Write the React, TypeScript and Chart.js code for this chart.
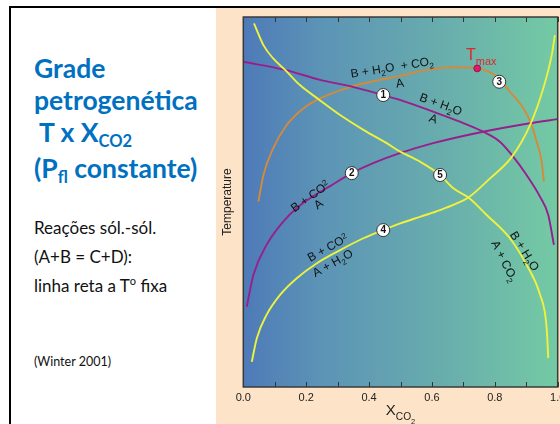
import React, { useEffect, useRef } from 'react';
import { Chart, registerables } from 'chart.js';
Chart.register(...registerables);

// ---- axis ticks ----
const xTickValues = [0, 0.1, 0.2, 0.3, 0.4, 0.5, 0.6, 0.7, 0.8, 0.9, 1.0];
const xTickLabels = ['0.0', '', '0.2', '', '0.4', '', '0.6', '', '0.8', '', '1.0'];

// ---- reaction curves (X_CO2, relative temperature 0..100) ----
const rxn1X = [0, 0.133, 0.244, 0.345, 0.445, 0.498, 0.604, 0.689, 0.763, 0.816, 0.859, 0.901, 0.944, 0.970, 0.988];
const rxn1T = [87.9, 85.7, 83.0, 81.2, 78.9, 77.6, 74.4, 71.7, 69.0, 66.3, 62.2, 57.3, 51.4, 46.5, 38.4];

const rxn2X = [0.011, 0.032, 0.074, 0.127, 0.175, 0.223, 0.276, 0.345, 0.413, 0.498, 0.604, 0.763, 0.912, 1.0];
const rxn2T = [21.7, 30.3, 38.4, 44.7, 48.7, 51.6, 54.3, 57.8, 60.5, 63.2, 65.9, 69.0, 71.3, 72.4];

const rxn3X = [0.048, 0.064, 0.095, 0.138, 0.191, 0.239, 0.345, 0.435, 0.499, 0.583, 0.668, 0.744, 0.806, 0.848, 0.891, 0.915, 0.933, 0.949, 0.956];
const rxn3T = [50.1, 57.3, 64.5, 70.8, 75.3, 77.8, 81.2, 83.0, 84.1, 85.7, 86.4, 86.1, 83.9, 79.8, 75.3, 71.3, 66.3, 60.9, 55.5];

const rxn4X = [0.027, 0.043, 0.074, 0.117, 0.170, 0.233, 0.308, 0.382, 0.445, 0.499, 0.562, 0.626, 0.679, 0.716, 0.785, 0.854, 0.912, 0.954, 0.981, 0.991];
const rxn4T = [6.8, 13.2, 19.5, 24.9, 29.4, 33.4, 37.0, 40.2, 42.4, 44.2, 46.0, 47.8, 49.6, 51.2, 56.4, 62.2, 70.8, 80.7, 89.7, 95.1];

const rxn5X = [0.034, 0.064, 0.095, 0.133, 0.180, 0.239, 0.308, 0.382, 0.456, 0.499, 0.562, 0.626, 0.668, 0.716, 0.774, 0.848, 0.901, 0.944, 0.965, 0.970];
const rxn5T = [98.3, 92.4, 88.8, 85.7, 81.6, 77.8, 73.5, 69.5, 65.9, 63.6, 60.9, 57.3, 53.7, 51.2, 46.5, 40.2, 33.0, 24.9, 15.9, 7.8];

// ---- numbered reaction markers ----
const markerNames = ['1', '2', '3', '4', '5'];
const markerX = [0.445, 0.345, 0.814, 0.445, 0.626];
const markerT = [78.9, 57.8, 82.5, 42.4, 57.3];

// ---- T max point ----
const tmaxX = 0.744;
const tmaxT = 86.1;

// ---- reaction text labels (segments: 0 normal, 1 sub, 2 sup, 3 sub-sub) ----
type Seg = [string, number];
const reactionLabels: { x: number; t: number; angle: number; segs: Seg[] }[] = [
  { x: 0.473, t: 86.5, angle: -9, segs: [['B + H', 0], ['2', 1], ['O  + CO', 0], ['2', 1]] },
  { x: 0.498, t: 82.2, angle: -9, segs: [['A', 0]] },
  { x: 0.629, t: 76.5, angle: 20, segs: [['B + H', 0], ['2', 1], ['O', 0]] },
  { x: 0.605, t: 72.6, angle: 20, segs: [['A', 0]] },
  { x: 0.212, t: 51.6, angle: -36, segs: [['B + CO', 0], ['2', 2]] },
  { x: 0.238, t: 49.5, angle: -36, segs: [['A', 0]] },
  { x: 0.268, t: 37.7, angle: -29, segs: [['B + CO', 0], ['2', 2]] },
  { x: 0.284, t: 33.6, angle: -29, segs: [['A + H', 0], ['2', 1], ['O', 0]] },
  { x: 0.896, t: 36.8, angle: 58, segs: [['B + H', 0], ['2', 1], ['O', 0]] },
  { x: 0.832, t: 34.1, angle: 63, segs: [['A + CO', 0], ['2', 1]] },
];

const FONT = '"Liberation Sans", Arial, Helvetica, sans-serif';

function drawRich(ctx: CanvasRenderingContext2D, segs: Seg[], cx: number, cy: number, angleDeg: number, size: number, color: string, weight = '') {
  ctx.save();
  ctx.translate(cx, cy);
  ctx.rotate((angleDeg * Math.PI) / 180);
  ctx.fillStyle = color;
  ctx.textBaseline = 'alphabetic';
  ctx.textAlign = 'left';
  const parts = segs.map(([t, k]) => {
    const s = k === 0 ? size : k === 3 ? size * 0.5 : size * 0.68;
    ctx.font = `${weight} ${s}px ${FONT}`;
    return { t, k, s, w: ctx.measureText(t).width };
  });
  const total = parts.reduce((a, p) => a + p.w, 0);
  let x = -total / 2;
  const base = size * 0.36;
  parts.forEach((p) => {
    ctx.font = `${weight} ${p.s}px ${FONT}`;
    const dy = p.k === 1 ? size * 0.28 : p.k === 2 ? -size * 0.3 : p.k === 3 ? size * 0.55 : 0;
    ctx.fillText(p.t, x, base + dy);
    x += p.w;
  });
  ctx.restore();
}

const zip = (xs: number[], ts: number[]) => xs.map((x, i) => ({ x, y: ts[i] }));

const ORANGE = 'rgb(212,138,58)';
const PURPLE = 'rgb(150,32,140)';
const YELLOW = 'rgb(236,242,62)';

const decorPlugin = {
  id: 'decor',
  beforeDatasetsDraw(chart: any) {
    const { ctx, chartArea: a } = chart;
    const g = ctx.createLinearGradient(a.left, 0, a.right, 0);
    g.addColorStop(0, 'rgb(78,122,184)');
    g.addColorStop(0.25, 'rgb(92,148,182)');
    g.addColorStop(0.5, 'rgb(100,164,176)');
    g.addColorStop(0.75, 'rgb(108,182,170)');
    g.addColorStop(1, 'rgb(116,202,164)');
    ctx.save();
    ctx.fillStyle = g;
    ctx.fillRect(a.left, a.top, a.right - a.left, a.bottom - a.top);
    ctx.restore();
  },
  afterDatasetsDraw(chart: any) {
    const { ctx, chartArea: a, scales } = chart;
    const xs = scales.x;
    const ys = scales.y;
    reactionLabels.forEach((l) => {
      drawRich(ctx, l.segs, xs.getPixelForValue(l.x), ys.getPixelForValue(l.t), l.angle, 12, '#111');
    });
    const tx = xs.getPixelForValue(tmaxX);
    const ty = ys.getPixelForValue(tmaxT);
    ctx.save();
    ctx.beginPath();
    ctx.arc(tx, ty, 3.4, 0, Math.PI * 2);
    ctx.fillStyle = 'rgb(232,20,110)';
    ctx.fill();
    ctx.lineWidth = 0.8;
    ctx.strokeStyle = 'rgb(120,20,60)';
    ctx.stroke();
    ctx.restore();
    drawRich(ctx, [['T', 0], ['max', 1]], tx + 4, ty - 14, 0, 16, 'rgb(222,40,40)');
    markerNames.forEach((n, i) => {
      const px = xs.getPixelForValue(markerX[i]);
      const py = ys.getPixelForValue(markerT[i]);
      ctx.save();
      ctx.beginPath();
      ctx.arc(px, py, 6.5, 0, Math.PI * 2);
      ctx.fillStyle = '#fff';
      ctx.fill();
      ctx.lineWidth = 1;
      ctx.strokeStyle = '#333';
      ctx.stroke();
      ctx.fillStyle = '#111';
      ctx.font = `bold 10px ${FONT}`;
      ctx.textAlign = 'center';
      ctx.textBaseline = 'middle';
      ctx.fillText(n, px, py + 0.5);
      ctx.restore();
    });
    ctx.save();
    ctx.strokeStyle = '#333';
    ctx.lineWidth = 1;
    xTickValues.forEach((v) => {
      const px = Math.round(xs.getPixelForValue(v)) + 0.5;
      ctx.beginPath();
      ctx.moveTo(px, a.top);
      ctx.lineTo(px, a.top + 5);
      ctx.moveTo(px, a.bottom);
      ctx.lineTo(px, a.bottom - 5);
      ctx.stroke();
    });
    ctx.lineWidth = 1.5;
    ctx.strokeStyle = '#3a3a3a';
    ctx.strokeRect(a.left, a.top, a.right - a.left, a.bottom - a.top);
    ctx.restore();
    drawRich(ctx, [['X', 0], ['CO', 1], ['2', 3]], (a.left + a.right) / 2, a.bottom + 23, 0, 15, '#222');
  },
};

function ChartPanel() {
  const ref = useRef<HTMLCanvasElement>(null);
  useEffect(() => {
    if (!ref.current) return;
    const mk = (xs: number[], ts: number[], color: string) => ({
      data: zip(xs, ts),
      showLine: true,
      borderColor: color,
      borderWidth: 1.9,
      pointRadius: 0,
      fill: false,
      cubicInterpolationMode: 'monotone' as const,
    });
    const chart = new Chart(ref.current, {
      type: 'scatter',
      data: {
        datasets: [
          mk(rxn4X, rxn4T, YELLOW),
          mk(rxn5X, rxn5T, YELLOW),
          mk(rxn2X, rxn2T, PURPLE),
          mk(rxn1X, rxn1T, PURPLE),
          mk(rxn3X, rxn3T, ORANGE),
        ],
      },
      options: {
        animation: false,
        responsive: false,
        devicePixelRatio: 1,
        layout: { padding: { top: 9, right: 2.3, left: 0, bottom: 0 } },
        plugins: { legend: { display: false }, tooltip: { enabled: false } },
        scales: {
          x: {
            type: 'linear',
            min: 0,
            max: 1,
            grid: { display: true, drawOnChartArea: false, drawTicks: false, color: 'rgba(0,0,0,0)' },
            border: { display: false },
            afterBuildTicks: (s: any) => {
              s.ticks = xTickValues.map((v) => ({ value: v }));
            },
            afterFit: (s: any) => {
              s.height = 37;
              s.paddingLeft = 0;
              s.paddingRight = 0;
            },
            ticks: {
              autoSkip: false,
              maxRotation: 0,
              minRotation: 0,
              padding: 4,
              color: '#222',
              font: { family: FONT, size: 11 },
              callback: (_v: any, i: number) => xTickLabels[i],
            },
          },
          y: {
            type: 'linear',
            min: 0,
            max: 100,
            grid: { display: false },
            border: { display: false },
            ticks: { display: false },
            title: { display: true, text: 'Temperature', color: '#222', font: { family: FONT, size: 12 }, padding: { top: 4, bottom: 0 } },
            afterFit: (s: any) => {
              s.width = 27.3;
              s.paddingTop = 0;
              s.paddingBottom = 0;
            },
          },
        },
      },
      plugins: [decorPlugin],
    } as any);
    return () => chart.destroy();
  }, []);
  return <canvas ref={ref} width={344} height={416} style={{ display: 'block' }} />;
}

export default function App() {
  const sub = (t: string, size: number, top: number) => (
    <span style={{ fontSize: size, position: 'relative', top }}>{t}</span>
  );
  return (
    <div style={{ position: 'fixed', left: 0, top: 0, width: 560, height: 424, overflow: 'hidden', background: '#fff' }}>
      <div style={{ position: 'absolute', left: 9, top: 6, width: 600, height: 2, background: '#000' }} />
      <div style={{ position: 'absolute', left: 9, top: 6, width: 2, height: 430, background: '#000' }} />
      <div style={{ position: 'absolute', left: 216, top: 8, width: 344, height: 416, background: 'rgb(253,228,201)' }}>
        <ChartPanel />
      </div>
      <div style={{ position: 'absolute', left: 34, top: 52, fontFamily: 'Lato, "Open Sans", sans-serif', fontWeight: 700, fontSize: 26.5, lineHeight: '32px', color: '#0070c0', whiteSpace: 'nowrap' }}>
        <div>Grade</div>
        <div>petrogenética</div>
        <div style={{ paddingLeft: 5 }}>T x X{sub('CO2', 16.5, 5)}</div>
        <div>(P{sub('fl', 16.5, 5)} constante)</div>
      </div>
      <div style={{ position: 'absolute', left: 34, top: 213, fontFamily: 'Lato, "Open Sans", sans-serif', fontSize: 17, lineHeight: '29px', color: '#111', whiteSpace: 'nowrap' }}>
        <div>Reações sól.-sól.</div>
        <div>(A+B = C+D):</div>
        <div>linha reta a T{sub('o', 11, -7)} fixa</div>
      </div>
      <div style={{ position: 'absolute', left: 34, top: 354, fontFamily: 'Lato, "Open Sans", sans-serif', fontSize: 12.5, lineHeight: '15px', color: '#111', whiteSpace: 'nowrap' }}>
        (Winter 2001)
      </div>
    </div>
  );
}
